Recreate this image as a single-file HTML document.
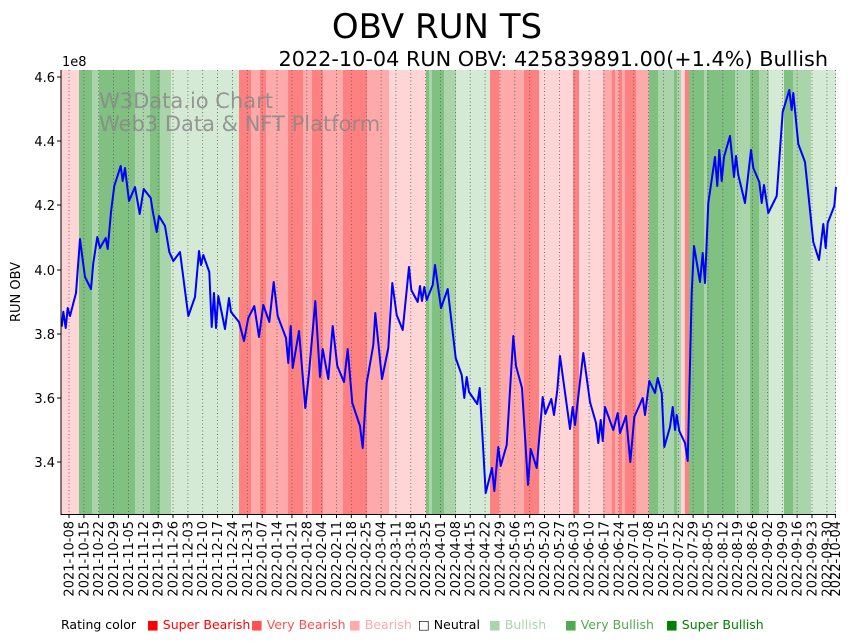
<!DOCTYPE html>
<html><head><meta charset="utf-8"><style>
html,body{margin:0;padding:0;background:#fff;}
svg{display:block;font-family:"DejaVu Sans","Liberation Sans",sans-serif;}
</style></head><body>
<svg width="855" height="641" viewBox="0 0 855 641" xmlns="http://www.w3.org/2000/svg">
<rect width="855" height="641" fill="#fff"/>
<text x="437" y="38" font-size="34" text-anchor="middle">OBV RUN TS</text>
<text x="828" y="66" font-size="20.8" text-anchor="end">2022-10-04 RUN OBV: 425839891.00(+1.4%) Bullish</text>
<text x="62" y="66" font-size="13">1e8</text>
<g>
<rect x="61" y="70" width="18" height="444" fill="#ffd5d5"/>
<rect x="79" y="70" width="13" height="444" fill="#80c080"/>
<rect x="92" y="70" width="7" height="444" fill="#aad5aa"/>
<rect x="99" y="70" width="36" height="444" fill="#80c080"/>
<rect x="135" y="70" width="15" height="444" fill="#aad5aa"/>
<rect x="150" y="70" width="10" height="444" fill="#80c080"/>
<rect x="160" y="70" width="11" height="444" fill="#aad5aa"/>
<rect x="171" y="70" width="68" height="444" fill="#d5ead5"/>
<rect x="239" y="70" width="12" height="444" fill="#ff8080"/>
<rect x="251" y="70" width="9" height="444" fill="#ffaaaa"/>
<rect x="260" y="70" width="6" height="444" fill="#ff8080"/>
<rect x="266" y="70" width="22" height="444" fill="#ffaaaa"/>
<rect x="288" y="70" width="15" height="444" fill="#ff8080"/>
<rect x="303" y="70" width="9" height="444" fill="#ffaaaa"/>
<rect x="312" y="70" width="11" height="444" fill="#ff8080"/>
<rect x="323" y="70" width="20" height="444" fill="#ffaaaa"/>
<rect x="343" y="70" width="24" height="444" fill="#ff8080"/>
<rect x="367" y="70" width="22" height="444" fill="#ffaaaa"/>
<rect x="389" y="70" width="37" height="444" fill="#ffd5d5"/>
<rect x="426" y="70" width="3" height="444" fill="#80c080"/>
<rect x="429" y="70" width="3" height="444" fill="#aad5aa"/>
<rect x="432" y="70" width="12" height="444" fill="#80c080"/>
<rect x="444" y="70" width="12" height="444" fill="#aad5aa"/>
<rect x="456" y="70" width="34" height="444" fill="#d5ead5"/>
<rect x="490" y="70" width="9" height="444" fill="#ff8080"/>
<rect x="499" y="70" width="25" height="444" fill="#ffaaaa"/>
<rect x="524" y="70" width="15" height="444" fill="#ff8080"/>
<rect x="539" y="70" width="34" height="444" fill="#ffd5d5"/>
<rect x="573" y="70" width="6" height="444" fill="#ff8080"/>
<rect x="579" y="70" width="24" height="444" fill="#ffd5d5"/>
<rect x="603" y="70" width="9" height="444" fill="#ffaaaa"/>
<rect x="612" y="70" width="3" height="444" fill="#ff8080"/>
<rect x="615" y="70" width="4" height="444" fill="#ffaaaa"/>
<rect x="619" y="70" width="3" height="444" fill="#ff8080"/>
<rect x="622" y="70" width="3" height="444" fill="#ffaaaa"/>
<rect x="625" y="70" width="11" height="444" fill="#ff8080"/>
<rect x="636" y="70" width="13" height="444" fill="#ffaaaa"/>
<rect x="649" y="70" width="9" height="444" fill="#80c080"/>
<rect x="658" y="70" width="16" height="444" fill="#aad5aa"/>
<rect x="674" y="70" width="3" height="444" fill="#80c080"/>
<rect x="677" y="70" width="4" height="444" fill="#aad5aa"/>
<rect x="681" y="70" width="4" height="444" fill="#ffd5d5"/>
<rect x="685" y="70" width="4" height="444" fill="#ff8080"/>
<rect x="689" y="70" width="15" height="444" fill="#80c080"/>
<rect x="704" y="70" width="3" height="444" fill="#aad5aa"/>
<rect x="707" y="70" width="28" height="444" fill="#80c080"/>
<rect x="735" y="70" width="15" height="444" fill="#aad5aa"/>
<rect x="750" y="70" width="9" height="444" fill="#80c080"/>
<rect x="759" y="70" width="10" height="444" fill="#aad5aa"/>
<rect x="769" y="70" width="15" height="444" fill="#d5ead5"/>
<rect x="784" y="70" width="9" height="444" fill="#80c080"/>
<rect x="793" y="70" width="18" height="444" fill="#aad5aa"/>
<rect x="811" y="70" width="25" height="444" fill="#d5ead5"/>
</g>
<g stroke="#555" stroke-width="0.8" stroke-dasharray="1,2.5" fill="none">
<path d="M69,70V514M83.9,70V514M98.7,70V514M113.6,70V514M128.4,70V514M143.3,70V514M158.2,70V514M173,70V514M187.9,70V514M202.7,70V514M217.6,70V514M232.5,70V514M247.3,70V514M262.2,70V514M277,70V514M291.9,70V514M306.8,70V514M321.6,70V514M336.5,70V514M351.3,70V514M366.2,70V514M381.1,70V514M395.9,70V514M410.8,70V514M425.6,70V514M440.5,70V514M455.4,70V514M470.2,70V514M485.1,70V514M499.9,70V514M514.8,70V514M529.7,70V514M544.5,70V514M559.4,70V514M574.2,70V514M589.1,70V514M604,70V514M618.8,70V514M633.7,70V514M648.5,70V514M663.4,70V514M678.3,70V514M693.1,70V514M708,70V514M722.8,70V514M737.7,70V514M752.6,70V514M767.4,70V514M782.3,70V514M797.1,70V514M812,70V514M826.9,70V514M835.4,70V514"/>
</g>
<g font-size="21" fill="#888" fill-opacity="0.85">
<text x="99" y="108">W3Data.io Chart</text>
<text x="99" y="131">Web3 Data &amp; NFT Platform</text>
</g>
<polyline fill="none" stroke="#0000ff" stroke-width="2" stroke-linejoin="round" points="61.7,326.7 63.3,311.7 65.7,328 67.7,308 70,316 76,293 80,239 82.7,260 85,277 91,289 93.3,263 97.3,237 100,248 105.7,238 107.7,249 111,212 114.3,186 120.7,166 122.7,181 125,168 129,201 135,187 139.7,214 143.7,189 150.7,198 152.7,211 156.7,232 159,216 165,226 169.3,252 173.3,261 180,252 188.3,316 195,297 199,251 201,265 203.3,255 209.3,272 211.7,327 214,293 216,328 218.3,296 225,329 229,298 231,312 239,322 244,341 248.3,318 254.3,306 259,337 263.3,305 269.3,322 273.7,282 277.7,316 286,338 288.3,363 290.7,326 292.7,368 299,331 305.3,408 309,373 315.3,301 320,377 322.7,349 328.3,379 332.7,326 337.3,366 344,382 347.7,349 352.3,403 360,426 362.7,448 366.7,383 373.3,345 375.3,313 378.3,343 382,379 388.3,348 392.3,283 396.7,315 402.7,330 409,267 411.3,290 417.7,302 420,286 422,301 424.3,287 426.7,300 432.7,285 435,265 441,308 447.7,289 455.7,358 461.7,375 464.3,398 466.7,377 469,392 477.3,404 479.7,388 485.7,493 492,468 494.3,491 498.3,447 500.7,466 506.7,445 513.3,336 516,366 522,388 528,485 530.7,449 536.7,468 542.7,397 545.3,414 551.3,399 554,415 557.3,390 560,356 570,429 572.7,407 575,425 583.3,353 590,402 596,423 598.3,443 600.7,420 602.7,441 605,407 613.3,430 617.7,413 620,433 626,416 630.3,462 634.3,417 642.7,398 645,415 649.3,381 655,393 657.7,378 661.7,393 664.3,447 670,427 672.7,407 675,430 676.7,415 679.3,431 685,443 687.7,461 691.7,293 694,246 700,282 702.7,253 705,283 708.3,203 715,157 717.3,186 719.3,150 721.7,181 724,157 730,136 734,177 736,156 738.3,175 745,203 751,150 753.3,168 759.3,182 761.7,203 764,185 768.3,213 776.7,196 782.7,112 789.3,90 791.7,110 793.3,93 798.3,144 805,162 813.3,242 819,260 823.3,224 825.7,248 827.7,223 834.3,206 836,187"/>
<g stroke="#000" stroke-width="1" fill="none">
<path d="M61,70V514.5H836"/>
<path d="M57,77H61M57,141H61M57,205H61M57,270H61M57,334H61M57,398H61M57,462H61"/>
<path d="M69,514V518M83.9,514V518M98.7,514V518M113.6,514V518M128.4,514V518M143.3,514V518M158.2,514V518M173,514V518M187.9,514V518M202.7,514V518M217.6,514V518M232.5,514V518M247.3,514V518M262.2,514V518M277,514V518M291.9,514V518M306.8,514V518M321.6,514V518M336.5,514V518M351.3,514V518M366.2,514V518M381.1,514V518M395.9,514V518M410.8,514V518M425.6,514V518M440.5,514V518M455.4,514V518M470.2,514V518M485.1,514V518M499.9,514V518M514.8,514V518M529.7,514V518M544.5,514V518M559.4,514V518M574.2,514V518M589.1,514V518M604,514V518M618.8,514V518M633.7,514V518M648.5,514V518M663.4,514V518M678.3,514V518M693.1,514V518M708,514V518M722.8,514V518M737.7,514V518M752.6,514V518M767.4,514V518M782.3,514V518M797.1,514V518M812,514V518M826.9,514V518M835.4,514V518"/>
</g>
<g font-size="13" text-anchor="end">
<text x="55" y="82">4.6</text><text x="55" y="146">4.4</text><text x="55" y="210">4.2</text><text x="55" y="275">4.0</text><text x="55" y="339">3.8</text><text x="55" y="403">3.6</text><text x="55" y="467">3.4</text>
</g>
<text transform="translate(20,292) rotate(-90)" font-size="13" text-anchor="middle">RUN OBV</text>
<g font-size="13" text-anchor="end">
<text transform="translate(73.5,521) rotate(-90)">2021-10-08</text>
<text transform="translate(88.4,521) rotate(-90)">2021-10-15</text>
<text transform="translate(103.2,521) rotate(-90)">2021-10-22</text>
<text transform="translate(118.1,521) rotate(-90)">2021-10-29</text>
<text transform="translate(132.9,521) rotate(-90)">2021-11-05</text>
<text transform="translate(147.8,521) rotate(-90)">2021-11-12</text>
<text transform="translate(162.7,521) rotate(-90)">2021-11-19</text>
<text transform="translate(177.5,521) rotate(-90)">2021-11-26</text>
<text transform="translate(192.4,521) rotate(-90)">2021-12-03</text>
<text transform="translate(207.2,521) rotate(-90)">2021-12-10</text>
<text transform="translate(222.1,521) rotate(-90)">2021-12-17</text>
<text transform="translate(237,521) rotate(-90)">2021-12-24</text>
<text transform="translate(251.8,521) rotate(-90)">2021-12-31</text>
<text transform="translate(266.7,521) rotate(-90)">2022-01-07</text>
<text transform="translate(281.5,521) rotate(-90)">2022-01-14</text>
<text transform="translate(296.4,521) rotate(-90)">2022-01-21</text>
<text transform="translate(311.3,521) rotate(-90)">2022-01-28</text>
<text transform="translate(326.1,521) rotate(-90)">2022-02-04</text>
<text transform="translate(341,521) rotate(-90)">2022-02-11</text>
<text transform="translate(355.8,521) rotate(-90)">2022-02-18</text>
<text transform="translate(370.7,521) rotate(-90)">2022-02-25</text>
<text transform="translate(385.6,521) rotate(-90)">2022-03-04</text>
<text transform="translate(400.4,521) rotate(-90)">2022-03-11</text>
<text transform="translate(415.3,521) rotate(-90)">2022-03-18</text>
<text transform="translate(430.1,521) rotate(-90)">2022-03-25</text>
<text transform="translate(445,521) rotate(-90)">2022-04-01</text>
<text transform="translate(459.9,521) rotate(-90)">2022-04-08</text>
<text transform="translate(474.7,521) rotate(-90)">2022-04-15</text>
<text transform="translate(489.6,521) rotate(-90)">2022-04-22</text>
<text transform="translate(504.4,521) rotate(-90)">2022-04-29</text>
<text transform="translate(519.3,521) rotate(-90)">2022-05-06</text>
<text transform="translate(534.2,521) rotate(-90)">2022-05-13</text>
<text transform="translate(549,521) rotate(-90)">2022-05-20</text>
<text transform="translate(563.9,521) rotate(-90)">2022-05-27</text>
<text transform="translate(578.7,521) rotate(-90)">2022-06-03</text>
<text transform="translate(593.6,521) rotate(-90)">2022-06-10</text>
<text transform="translate(608.5,521) rotate(-90)">2022-06-17</text>
<text transform="translate(623.3,521) rotate(-90)">2022-06-24</text>
<text transform="translate(638.2,521) rotate(-90)">2022-07-01</text>
<text transform="translate(653,521) rotate(-90)">2022-07-08</text>
<text transform="translate(667.9,521) rotate(-90)">2022-07-15</text>
<text transform="translate(682.8,521) rotate(-90)">2022-07-22</text>
<text transform="translate(697.6,521) rotate(-90)">2022-07-29</text>
<text transform="translate(712.5,521) rotate(-90)">2022-08-05</text>
<text transform="translate(727.3,521) rotate(-90)">2022-08-12</text>
<text transform="translate(742.2,521) rotate(-90)">2022-08-19</text>
<text transform="translate(757.1,521) rotate(-90)">2022-08-26</text>
<text transform="translate(771.9,521) rotate(-90)">2022-09-02</text>
<text transform="translate(786.8,521) rotate(-90)">2022-09-09</text>
<text transform="translate(801.6,521) rotate(-90)">2022-09-16</text>
<text transform="translate(816.5,521) rotate(-90)">2022-09-23</text>
<text transform="translate(831.4,521) rotate(-90)">2022-09-30</text>
<text transform="translate(839.9,521) rotate(-90)">2022-10-04</text>
</g>
<g font-size="12.5">
<text x="61" y="629">Rating color</text>
<text x="147" y="629" fill="#ff0000">■ Super Bearish</text>
<text x="251" y="629" fill="#ff5050">■ Very Bearish</text>
<text x="349" y="629" fill="#ffaaaa">■ Bearish</text>
<text x="418" y="629" fill="#000">□ Neutral</text>
<text x="489" y="629" fill="#aad5aa">■ Bullish</text>
<text x="565" y="629" fill="#50aa50">■ Very Bullish</text>
<text x="666" y="629" fill="#008000">■ Super Bullish</text>
</g>
</svg>
</body></html>
